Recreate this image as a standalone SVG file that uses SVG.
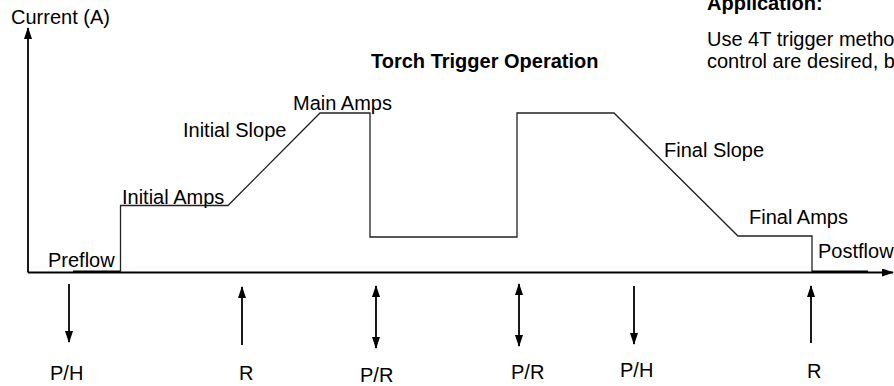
<svg xmlns="http://www.w3.org/2000/svg" width="894" height="386" viewBox="0 0 894 386">
<style>
text{font-family:"Liberation Sans",Arial,Helvetica,sans-serif;font-size:20px;fill:#000}
.b{font-weight:bold}
.ax{stroke:#000;stroke-width:1.8;fill:none}
.wave{stroke:#222;stroke-width:1.3;fill:none;stroke-linejoin:miter}
.flow{stroke:#000;stroke-width:1.8;fill:none}
.arr{stroke:#000;stroke-width:1.8;fill:none}
</style>
<defs>
<marker id="ah" viewBox="0 0 12 8" refX="11" refY="4" markerWidth="12" markerHeight="8" markerUnits="userSpaceOnUse" orient="auto-start-reverse">
<path d="M0,0 L12,4 L0,8 Z" fill="#000"/>
</marker>
</defs>
<rect width="894" height="386" fill="#fff"/>
<g id="axes">
<line class="ax" x1="28" y1="272.5" x2="28" y2="28" marker-end="url(#ah)"/>
<line class="ax" x1="28" y1="272.5" x2="893" y2="272.5" marker-end="url(#ah)"/>
</g>
<g id="waveform">
<line class="flow" x1="73" y1="271.5" x2="120.5" y2="271.5"/>
<polyline class="wave" points="120.5,272 120.5,205.5 228,205.5 320,113 370,113 370,237 517,237 517,113 614,113 738,236 812,236 812,272"/>
<line class="flow" x1="812" y1="271.5" x2="868" y2="271.5"/>
</g>
<g id="labels">
<text x="11" y="24">Current (A)</text>
<text class="b" x="371" y="68">Torch Trigger Operation</text>
<text class="b" x="707" y="10">Application:</text>
<text x="707" y="46">Use 4T trigger method</text>
<text x="707" y="68">control are desired, b</text>
<text x="293" y="110">Main Amps</text>
<text x="183" y="137">Initial Slope</text>
<text x="122" y="204">Initial Amps</text>
<text x="48" y="267">Preflow</text>
<text x="664" y="157">Final Slope</text>
<text x="749" y="224">Final Amps</text>
<text x="818" y="258">Postflow</text>
</g>
<g id="connectors">
<line class="arr" x1="69" y1="284" x2="69" y2="342" marker-end="url(#ah)"/>
<line class="arr" x1="242" y1="345" x2="242" y2="287" marker-end="url(#ah)"/>
<line class="arr" x1="376" y1="286" x2="376" y2="348" marker-start="url(#ah)" marker-end="url(#ah)"/>
<line class="arr" x1="519" y1="284" x2="519" y2="346" marker-start="url(#ah)" marker-end="url(#ah)"/>
<line class="arr" x1="634" y1="286" x2="634" y2="344" marker-end="url(#ah)"/>
<line class="arr" x1="811" y1="343" x2="811" y2="286" marker-end="url(#ah)"/>
</g>
<g id="events">
<text x="50" y="380">P/H</text>
<text x="239" y="380">R</text>
<text x="360" y="382">P/R</text>
<text x="511" y="379">P/R</text>
<text x="620" y="377">P/H</text>
<text x="807" y="378">R</text>
</g>
</svg>
